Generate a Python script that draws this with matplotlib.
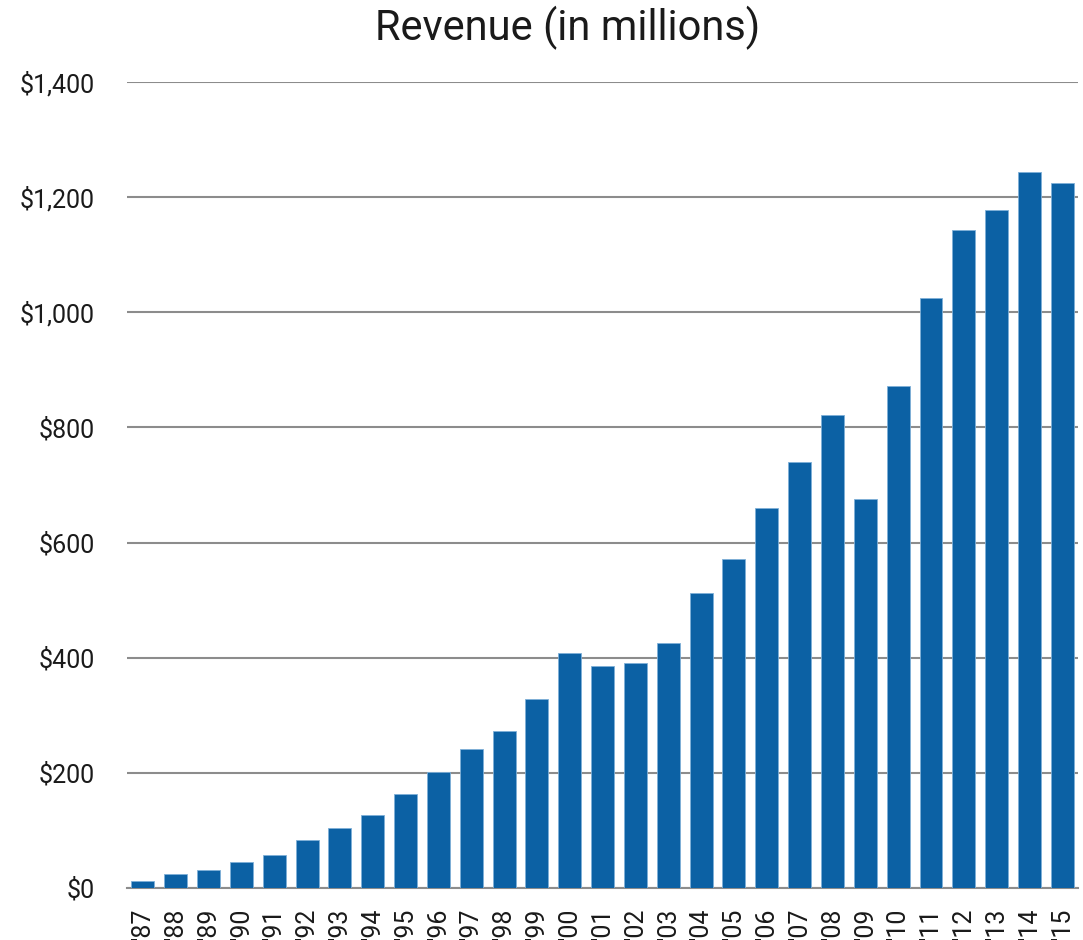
import matplotlib
matplotlib.use("Agg")
import matplotlib.pyplot as plt
from matplotlib.ticker import FuncFormatter

YEARS = ["'87", "'88", "'89", "'90", "'91", "'92", "'93", "'94", "'95", "'96",
         "'97", "'98", "'99", "'00", "'01", "'02", "'03", "'04", "'05", "'06",
         "'07", "'08", "'09", "'10", "'11", "'12", "'13", "'14", "'15"]
REVENUE = [13, 24, 31, 45, 58, 83, 105, 127, 164, 201,
           241, 273, 329, 409, 385, 391, 426, 512, 571, 660,
           740, 822, 676, 872, 1025, 1143, 1178, 1244, 1225]
Y_TICKS = [0, 200, 400, 600, 800, 1000, 1200, 1400]

BAR_COLOR = "#0c61a4"
GRID_COLOR = "#8c8c8c"

plt.rcParams["font.family"] = ["Roboto", "DejaVu Sans"]
plt.rcParams["text.color"] = "#1a1a1a"

fig = plt.figure(figsize=(10.83, 9.4), dpi=100)
ax = fig.add_axes([0.1173, 0.0553, 0.8782, 0.8575])

x = list(range(len(YEARS)))
ax.bar(x, REVENUE, width=0.7, color=BAR_COLOR, edgecolor="#7fb0d8",
       linewidth=0.6, zorder=3)

ax.set_xlim(-0.48, len(YEARS) - 0.52)
ax.set_ylim(0, 1400)
ax.set_yticks(Y_TICKS)
ax.yaxis.set_major_formatter(FuncFormatter(lambda v, p: f"${v:,.0f}"))
ax.grid(axis="y", color=GRID_COLOR, linewidth=1.5, zorder=0)
ax.set_axisbelow(True)

ax.set_xticks(x)
ax.set_xticklabels(YEARS, rotation=90, fontsize=18, va="top", ha="center",
                   color="#1a1a1a")
for lbl in ax.get_yticklabels():
    lbl.set_fontsize(18)
    lbl.set_color("#1a1a1a")

ax.tick_params(axis="both", length=0)
ax.tick_params(axis="x", pad=14)
ax.tick_params(axis="y", pad=23)

for side in ["top", "right", "left"]:
    ax.spines[side].set_visible(False)
ax.spines["bottom"].set_color(GRID_COLOR)
ax.spines["bottom"].set_linewidth(1.5)

fig.text(0.5245, 0.957, "Revenue (in millions)", ha="center", va="baseline",
         fontsize=30)

fig.savefig("out.png", dpi=100)
